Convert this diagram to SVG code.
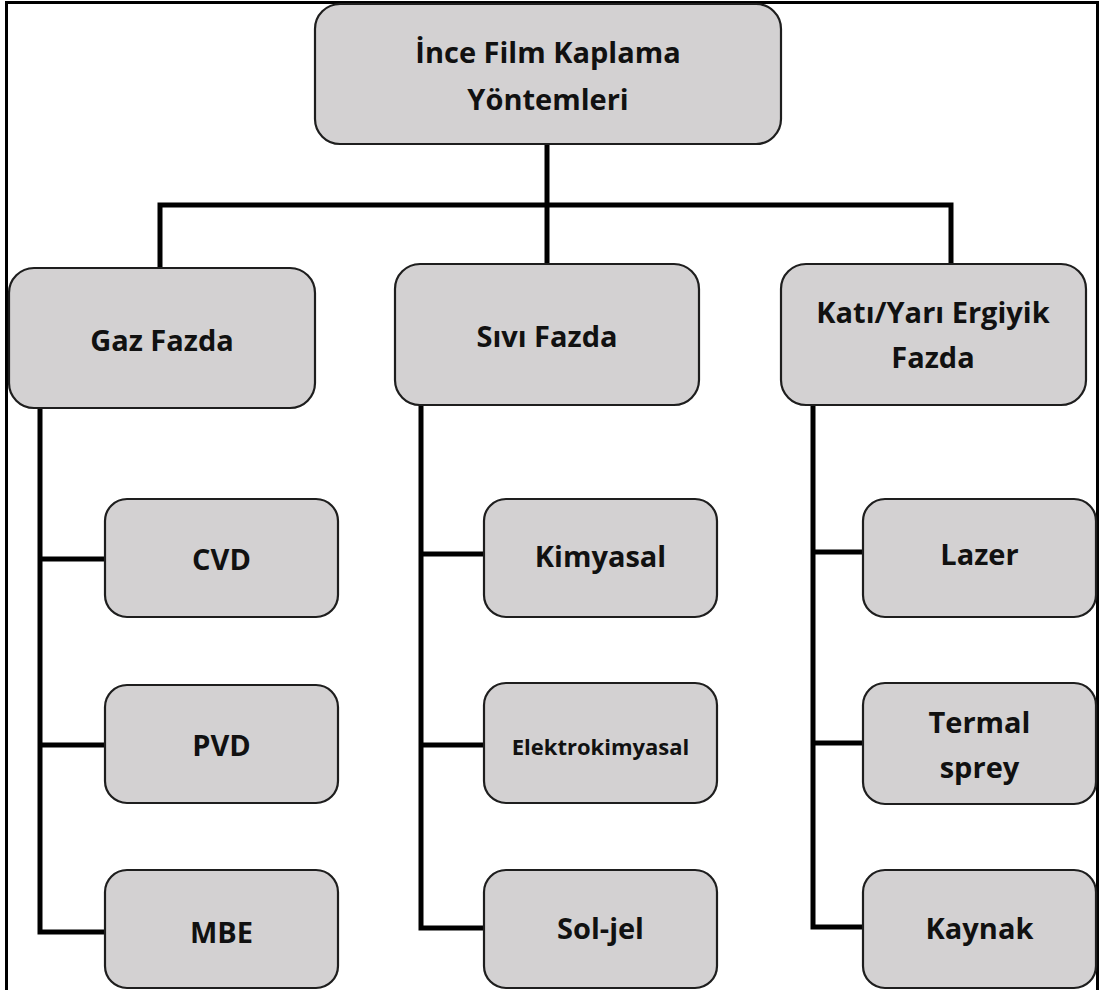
<svg xmlns="http://www.w3.org/2000/svg" width="1101" height="990" viewBox="0 0 1101 990">
<style>
.box{fill:#d3d1d2;stroke:#1e1e1e;stroke-width:2.2}
.t{font-family:"Open Sans","Liberation Sans",sans-serif;font-weight:bold;font-size:29px;fill:#111;text-anchor:middle}
.s{font-size:22px}
.c{fill:none;stroke:#000;stroke-width:5;stroke-linecap:square;stroke-linejoin:miter}
</style>
<rect x="0" y="0" width="1101" height="990" fill="#fff"/>
<rect x="6.5" y="2.5" width="1091" height="1000" fill="none" stroke="#000" stroke-width="3"/>
<g id="connectors">
<path class="c" d="M547 144V205M160 268V205H951V264M547 205V264"/>
<path class="c" d="M40 408V932H105M40 559H105M40 745H105"/>
<path class="c" d="M421 405V928H484M421 554H484M421 745H484"/>
<path class="c" d="M813 405V927H863M813 552H863M813 743H863"/>
</g>
<g id="root"><rect class="box" x="315" y="4" width="466" height="140" rx="25"/><text class="t" x="548" y="63">İnce Film Kaplama</text><text class="t" x="548" y="110">Yöntemleri</text></g>
<g id="gaz"><rect class="box" x="9" y="268" width="306" height="140" rx="25"/><text class="t" x="162" y="351">Gaz Fazda</text></g>
<g id="sivi"><rect class="box" x="395" y="264" width="304" height="141" rx="25"/><text class="t" x="547" y="347">Sıvı Fazda</text></g>
<g id="kati"><rect class="box" x="781" y="264" width="305" height="141" rx="25"/><text class="t" x="933" y="323">Katı/Yarı Ergiyik</text><text class="t" x="933" y="368">Fazda</text></g>
<g id="cvd"><rect class="box" x="105" y="499" width="233" height="118" rx="22"/><text class="t" x="221.5" y="570">CVD</text></g>
<g id="pvd"><rect class="box" x="105" y="685" width="233" height="118" rx="22"/><text class="t" x="221.5" y="756">PVD</text></g>
<g id="mbe"><rect class="box" x="105" y="870" width="233" height="118" rx="22"/><text class="t" x="221.5" y="943">MBE</text></g>
<g id="kimyasal"><rect class="box" x="484" y="499" width="233" height="118" rx="22"/><text class="t" x="600.5" y="567">Kimyasal</text></g>
<g id="elektrokimyasal"><rect class="box" x="484" y="683" width="233" height="120" rx="22"/><text class="t s" x="600.5" y="755">Elektrokimyasal</text></g>
<g id="soljel"><rect class="box" x="484" y="870" width="233" height="118" rx="22"/><text class="t" x="600.5" y="939">Sol-jel</text></g>
<g id="lazer"><rect class="box" x="863" y="499" width="233" height="118" rx="22"/><text class="t" x="979.5" y="565">Lazer</text></g>
<g id="termal"><rect class="box" x="863" y="683" width="233" height="121" rx="22"/><text class="t" x="979.5" y="733">Termal</text><text class="t" x="979.5" y="778">sprey</text></g>
<g id="kaynak"><rect class="box" x="863" y="870" width="233" height="118" rx="22"/><text class="t" x="979.5" y="939">Kaynak</text></g>
</svg>
